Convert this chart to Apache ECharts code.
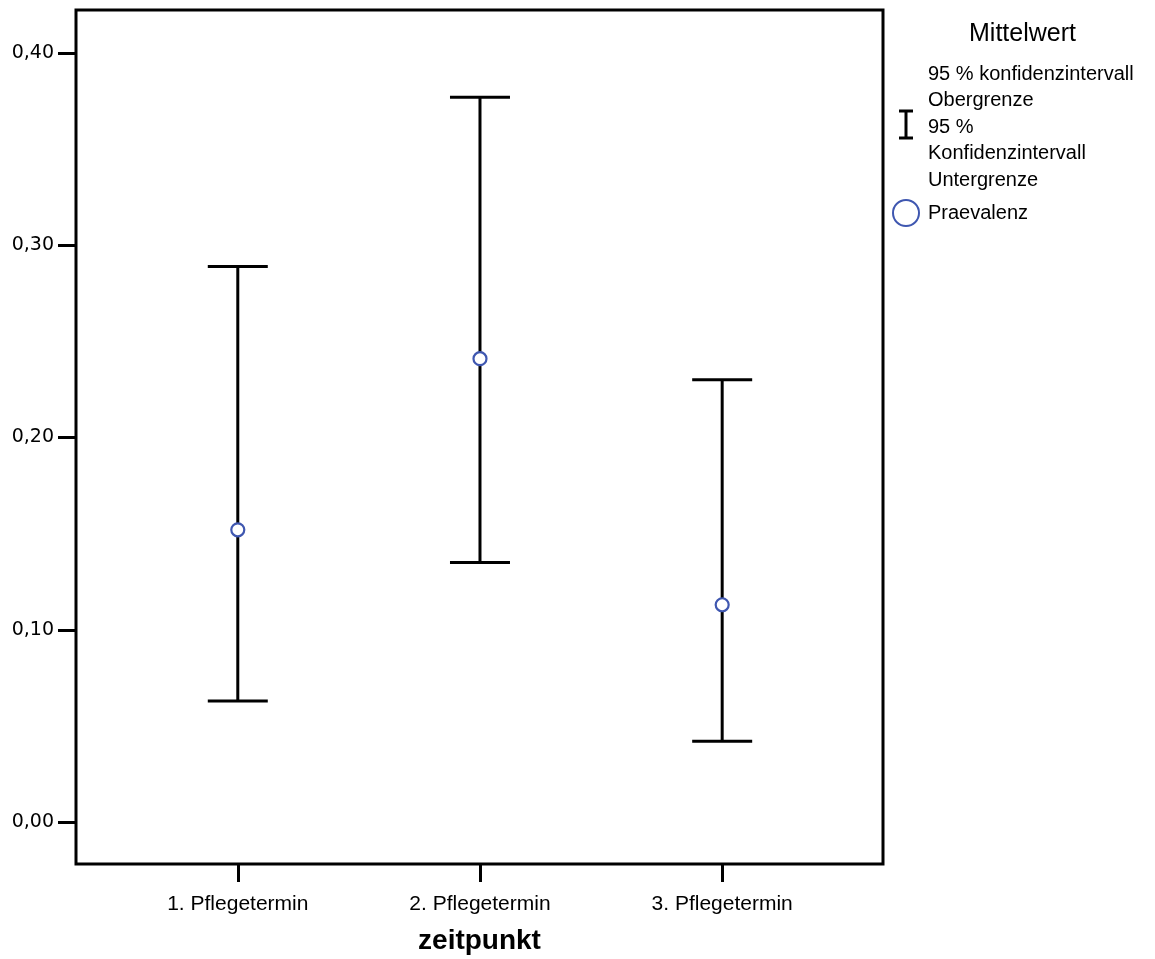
<!DOCTYPE html>
<html><head><meta charset="utf-8">
<script src="https://cdn.jsdelivr.net/npm/echarts@6/dist/echarts.min.js"></script>
<style>html,body{margin:0;padding:0;background:#fff}#c{width:1155px;height:959px}</style>
</head><body><div id="c"></div>
<script>
const categories = ['1. Pflegetermin', '2. Pflegetermin', '3. Pflegetermin'];
const meanValues = [0.152, 0.241, 0.113];
const upperValues = [0.289, 0.377, 0.230];
const lowerValues = [0.063, 0.135, 0.042];
const yTicks = [0, 0.1, 0.2, 0.3, 0.4];
const xPositions = [1, 2, 3];

const chart = echarts.init(document.getElementById('c'));
const blue = '#3f57b0';
const errData = xPositions.map((x, i) => [x, lowerValues[i], upperValues[i]]);
const meanData = xPositions.map((x, i) => [x, meanValues[i]]);

chart.setOption({
  animation: false,
  backgroundColor: '#fff',
  grid: { left: 76, top: 10, width: 807, height: 854, outerBoundsMode: 'none', containLabel: false, show: true, borderColor: '#000', borderWidth: 3, backgroundColor: 'transparent' },
  xAxis: {
    type: 'value', min: 0.332, max: 3.664,
    splitLine: { show: false },
    axisLine: { show: false, onZero: false },
    axisTick: { show: true, length: 18, inside: false, lineStyle: { color: '#000', width: 3 }, customValues: xPositions },
    axisLabel: { show: true, customValues: xPositions, formatter: v => categories[Math.round(v) - 1] || '', color: '#000', fontFamily: 'Liberation Sans', fontSize: 21, margin: 30 },
    name: 'zeitpunkt', nameLocation: 'middle', nameGap: 63,
    nameTextStyle: { color: '#000', fontFamily: 'Liberation Sans', fontSize: 28, fontWeight: 'bold' }
  },
  yAxis: {
    type: 'value', min: -0.02185, max: 0.4224,
    splitLine: { show: false },
    axisLine: { show: false, onZero: false },
    axisTick: { show: true, length: 18, lineStyle: { color: '#000', width: 3 }, customValues: yTicks },
    axisLabel: { show: true, customValues: yTicks, formatter: v => v.toFixed(2).replace('.', ','), color: '#000', fontFamily: 'DejaVu Sans', fontSize: 19, margin: 22, padding: [6, 0, 0, 0] }
  },
  series: [
    {
      type: 'custom',
      data: errData,
      encode: { x: 0, y: [1, 2] },
      renderItem: function (params, api) {
        const x = api.value(0);
        const lo = api.coord([x, api.value(1)]);
        const hi = api.coord([x, api.value(2)]);
        const hw = 30;
        const style = { stroke: '#000', lineWidth: 3, fill: null };
        return {
          type: 'group',
          children: [
            { type: 'line', shape: { x1: lo[0], y1: lo[1], x2: hi[0], y2: hi[1] }, style: style },
            { type: 'line', shape: { x1: hi[0] - hw, y1: hi[1], x2: hi[0] + hw, y2: hi[1] }, style: style },
            { type: 'line', shape: { x1: lo[0] - hw, y1: lo[1], x2: lo[0] + hw, y2: lo[1] }, style: style }
          ]
        };
      },
      z: 2
    },
    {
      type: 'scatter',
      data: meanData,
      symbol: 'circle',
      symbolSize: 13,
      itemStyle: { color: '#fff', borderColor: blue, borderWidth: 2.2, opacity: 1 },
      z: 3
    }
  ],
  graphic: [
    { type: 'text', left: 969, top: 22, style: { text: 'Mittelwert', font: '25px "Liberation Sans"', fill: '#000' } },
    { type: 'text', left: 928, top: 61, style: { text: '95 % konfidenzintervall\nObergrenze\n95 %\nKonfidenzintervall\nUntergrenze', font: '20px "Liberation Sans"', lineHeight: 26.5, fill: '#000' } },
    { type: 'line', shape: { x1: 906, y1: 111, x2: 906, y2: 138 }, style: { stroke: '#000', lineWidth: 3 } },
    { type: 'line', shape: { x1: 899, y1: 111, x2: 913, y2: 111 }, style: { stroke: '#000', lineWidth: 3 } },
    { type: 'line', shape: { x1: 899, y1: 138, x2: 913, y2: 138 }, style: { stroke: '#000', lineWidth: 3 } },
    { type: 'circle', shape: { cx: 906, cy: 213, r: 13 }, style: { stroke: blue, lineWidth: 2, fill: '#fff' } },
    { type: 'text', left: 928, top: 203, style: { text: 'Praevalenz', font: '20px "Liberation Sans"', fill: '#000' } }
  ]
});
</script></body></html>
